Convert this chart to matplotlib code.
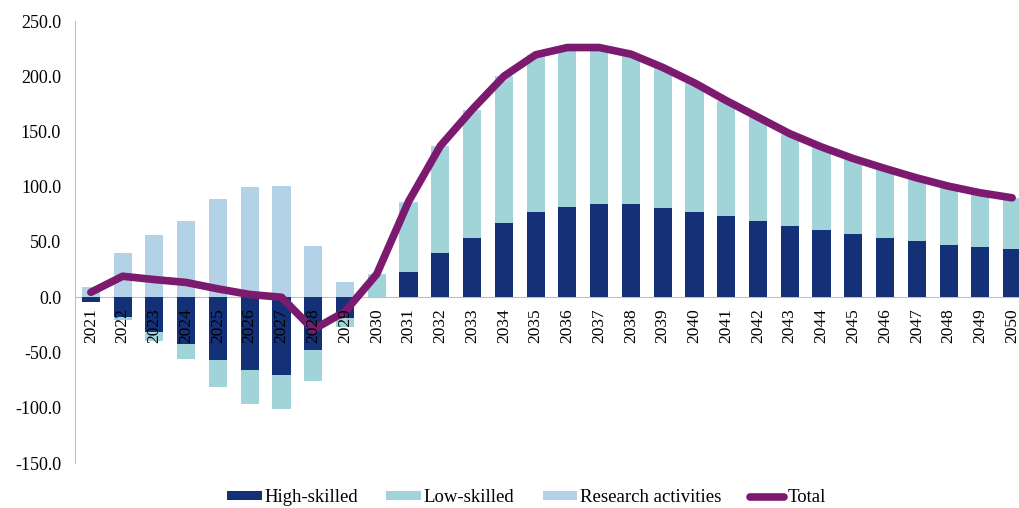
import matplotlib.pyplot as plt
import numpy as np
from matplotlib.ticker import FuncFormatter

years = list(range(2021, 2051))

high_skilled = [-4, -18, -31, -42, -57, -66, -70, -48, -19, 0,
                22.6, 40.4, 53.3, 67, 77.4, 82, 84, 84, 81, 77.3,
                73.5, 68.7, 64.5, 60.6, 57.2, 53.9, 50.6, 47.6, 45.2, 43.4]
low_skilled = [-0.5, -3, -9, -13.6, -24, -31, -31, -28, -7.5, 19,
               62, 94, 113, 128, 138, 140.5, 139, 133, 124, 114.2,
               102, 92.3, 81.5, 73.4, 66.8, 61.1, 55.9, 51.4, 48.3, 45.6]
research = [9, 40, 56, 69, 88.6, 99.5, 101, 46.7, 13.5, 2,
            2, 2.5, 3.5, 5, 4, 3.5, 3, 3, 3, 2.5,
            2.5, 2, 2, 2, 1.5, 1.5, 1.5, 1.5, 1, 1]

labels = ["High-skilled", "Low-skilled", "Research activities", "Total"]
colors = ["#143177", "#a0d4d8", "#b4d2e7", "#7b1a6e"]

plt.rcParams['font.family'] = ['Liberation Serif', 'DejaVu Serif']

series = [np.array(high_skilled), np.array(low_skilled), np.array(research)]
total = series[0] + series[1] + series[2]
x = np.arange(len(years))

fig = plt.figure(figsize=(10.2, 5.08), dpi=100)
ax = fig.add_axes([75 / 1020, 45 / 508, 953 / 1020, 442 / 508])

# stack positives up from zero, negatives down from zero
pos_base = np.zeros(len(x))
neg_base = np.zeros(len(x))
for vals, lab, col in zip(series, labels[:3], colors[:3]):
    base = np.where(vals >= 0, pos_base, neg_base)
    ax.bar(x, vals, width=0.57, bottom=base, color=col, label=lab, zorder=2)
    pos_base = pos_base + np.where(vals >= 0, vals, 0)
    neg_base = neg_base + np.where(vals < 0, vals, 0)

ax.plot(x, total, color=colors[3], linewidth=5.5, solid_joinstyle='round',
        solid_capstyle='round', label=labels[3], zorder=3)

for s in ['top', 'right']:
    ax.spines[s].set_visible(False)
ax.spines['bottom'].set_position(('data', 0))
ax.spines['bottom'].set_color('#bfbfbf')
ax.spines['left'].set_color('#bfbfbf')
ax.spines['bottom'].set_zorder(1)

ax.set_xlim(-0.5, len(x) - 0.5)
ax.set_ylim(-150, 250)
ax.set_yticks(np.arange(-150, 251, 50))
ax.yaxis.set_major_formatter(FuncFormatter(lambda v, p: f"{v:.1f}"))
ax.set_xticks(x)
ax.set_xticklabels([str(y) for y in years])
ax.tick_params(axis='both', length=0)
ax.tick_params(axis='y', pad=10, labelsize=13)
ax.tick_params(axis='x', pad=8, labelsize=12.5, labelrotation=90)
# year labels sit on top of the bars and the line, as in the original
ax.xaxis.set_zorder(5)

handles, labs = ax.get_legend_handles_labels()
order = [1, 2, 3, 0]
fig.legend([handles[i] for i in order], [labs[i] for i in order],
           loc='lower center', bbox_to_anchor=(0.516, -0.03), ncol=4,
           frameon=False, fontsize=13.5, handlelength=1.85, handleheight=0.4,
           handletextpad=0.15, columnspacing=1.5)

fig.savefig("out.png", dpi=100)
